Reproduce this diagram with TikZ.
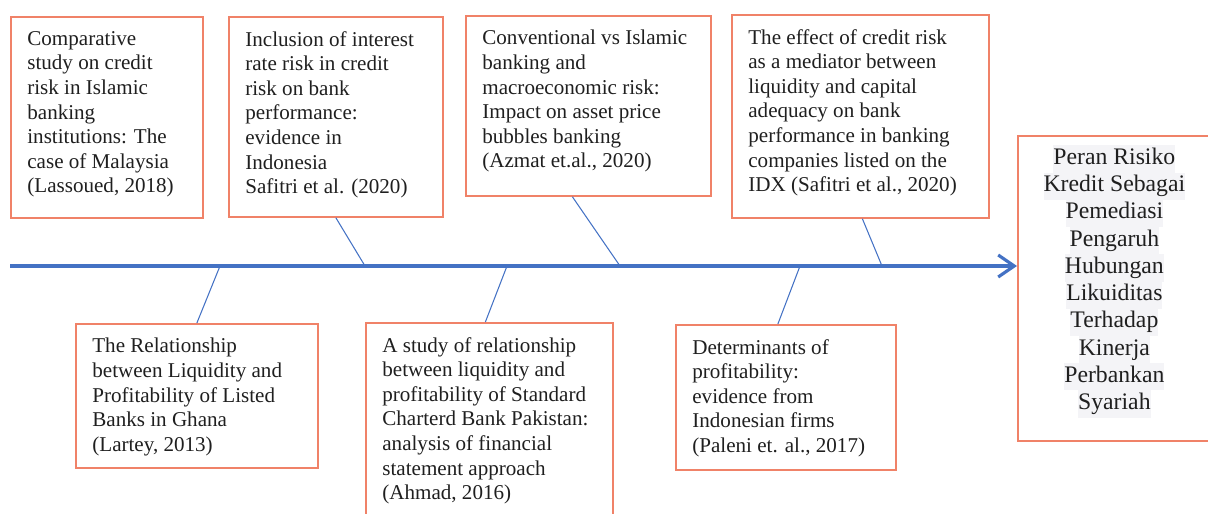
\documentclass[tikz,border=0pt]{standalone}
\usepackage{fontspec}
\setmainfont{Liberation Serif}
\usetikzlibrary{positioning,arrows.meta,calc}
\newdimen\px \px=0.02cm
\definecolor{boxred}{RGB}{240,130,104}
\definecolor{spineblue}{RGB}{68,114,196}
\definecolor{hlgray}{RGB}{244,244,247}
\newcommand{\hl}[1]{{\setlength{\fboxsep}{0pt}\colorbox{hlgray}{\strut#1}}}
\tikzset{
  refbox/.style={draw=boxred,line width=1pt,anchor=north west,inner sep=0pt},
  reftext/.style={anchor=north west,align=left,inner xsep=17*\px,inner ysep=15*\px,
    font=\fontsize{12}{14}\selectfont,text=black!88},
  goaltext/.style={anchor=north,align=center,inner sep=0pt,
    font=\fontsize{13.5}{15.5}\selectfont,text=black!88},
  branch/.style={draw=spineblue,line width=0.6pt},
  spine/.style={draw=spineblue,line width=1.8pt,-{Straight Barb[length=0.32cm,width=0.44cm]}}
}

\begin{document}
\begin{tikzpicture}[x=0.02cm,y=-0.02cm]
  \useasboundingbox (0,0) rectangle (1208,514);
  % upper row
  \node[refbox,minimum width=192*\px,minimum height=201*\px] (b1) at (10,16) {};
  \node[reftext] (t1) at (b1.north west) {Comparative\\study on credit\\risk in Islamic\\banking\\institutions: The\\case of Malaysia\\(Lassoued, 2018)};
  \node[refbox,minimum width=214*\px,minimum height=200*\px] (b2) at (228,16) {};
  \node[reftext] (t2) at (b2.north west) {Inclusion of interest\\rate risk in credit\\risk on bank\\performance:\\evidence in\\Indonesia\\Safitri et al. (2020)};
  \node[refbox,minimum width=245*\px,minimum height=180*\px] (b3) at (465,15) {};
  \node[reftext] (t3) at (b3.north west) {Conventional vs Islamic\\banking and\\macroeconomic risk:\\Impact on asset price\\bubbles banking\\(Azmat et.al., 2020)};
  \node[refbox,minimum width=257*\px,minimum height=203*\px] (b4) at (731,14) {};
  \node[reftext] (t4) at (b4.north west) {The effect of credit risk\\as a mediator between\\liquidity and capital\\adequacy on bank\\performance in banking\\companies listed on the\\IDX (Safitri et al., 2020)};
  % lower row
  \node[refbox,minimum width=242*\px,minimum height=144*\px] (b5) at (75,323) {};
  \node[reftext] (t5) at (b5.north west) {The Relationship\\between Liquidity and\\Profitability of Listed\\Banks in Ghana\\(Lartey, 2013)};
  \node[refbox,minimum width=247*\px,minimum height=210*\px] (b6) at (365,322) {};
  \node[reftext] (t6) at (b6.north west) {A study of relationship\\between liquidity and\\profitability of Standard\\Charterd Bank Pakistan:\\analysis of financial\\statement approach\\(Ahmad, 2016)};
  \node[refbox,minimum width=220*\px,minimum height=145*\px] (b7) at (675,324) {};
  \node[reftext] (t7) at (b7.north west) {Determinants of\\profitability:\\evidence from\\Indonesian firms\\(Paleni et. al., 2017)};
  % outcome
  \node[refbox,minimum width=193*\px,minimum height=305*\px] (goal) at (1017,135) {};
  \node[goaltext] (tg) at ([yshift=-10*\px]goal.north) {\hl{Peran Risiko}\\\hl{Kredit Sebagai}\\\hl{Pemediasi}\\\hl{Pengaruh}\\\hl{Hubungan}\\\hl{Likuiditas}\\\hl{Terhadap}\\\hl{Kinerja}\\\hl{Perbankan}\\\hl{Syariah}};

  \coordinate (tail) at (10,266);
  \draw[spine] (tail) -- (tail -| goal.west);
  \coordinate (j2) at (365,266);
  \coordinate (j3) at (620,266);
  \coordinate (j4) at (882,266);
  \coordinate (j5) at (220,266);
  \coordinate (j6) at (507,266);
  \coordinate (j7) at (800,266);
  \draw[branch] (b2.south) -- (j2);
  \draw[branch] ([xshift=-16*\px]b3.south) -- (j3);
  \draw[branch] ([xshift=2*\px]b4.south) -- (j4);
  \draw[branch] (j5) -- (b5.north);
  \draw[branch] (j6) -- ([xshift=-4*\px]b6.north);
  \draw[branch] (j7) -- ([xshift=-8*\px]b7.north);
\end{tikzpicture}
\end{document}
